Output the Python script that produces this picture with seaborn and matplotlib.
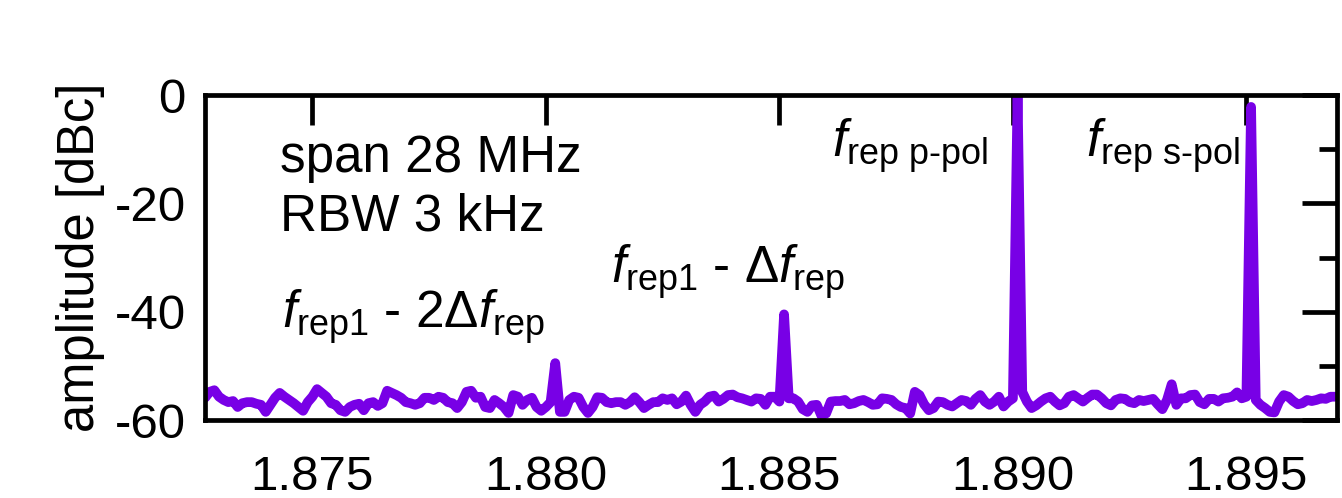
import numpy as np
import pandas as pd
import matplotlib
matplotlib.use("Agg")
import matplotlib.pyplot as plt
import seaborn as sns

# ---- data -------------------------------------------------------------
f_start = 1.8727          # GHz, first analyser bin
f_step = 0.0001           # GHz, bin spacing
amplitude_dbc = [
    -55.9, -54.8, -54.5, -55.7, -56.3, -56.7, -56.5, -57.6, -56.9, -56.7,
    -56.7, -57.0, -57.2, -58.5, -57.2, -55.9, -55.0, -55.7, -56.3, -56.9,
    -57.6, -58.3, -56.7, -55.7, -54.3, -55.0, -55.7, -56.9, -57.2, -58.2,
    -58.5, -57.6, -57.2, -57.0, -58.2, -56.9, -56.7, -57.4, -56.9, -54.6,
    -55.0, -55.4, -55.9, -56.7, -56.9, -57.2, -56.9, -55.9, -55.9, -56.3,
    -55.7, -55.9, -56.7, -56.9, -57.8, -56.7, -54.8, -54.6, -55.9, -55.7,
    -57.6, -57.8, -56.3, -56.9, -57.6, -58.7, -55.4, -55.7, -57.2, -56.3,
    -55.9, -57.6, -58.3, -57.6, -56.7, -49.5, -58.5, -58.5, -56.3, -55.7,
    -55.9, -57.6, -58.7, -57.6, -55.8, -55.9, -56.7, -56.9, -56.7, -56.7,
    -57.2, -56.7, -55.8, -56.7, -57.8, -57.2, -56.7, -56.7, -56.0, -56.3,
    -56.0, -57.1, -56.6, -55.5, -57.2, -58.5, -57.2, -56.6, -55.7, -55.5,
    -56.6, -56.1, -55.4, -55.3, -55.8, -56.0, -56.3, -56.6, -56.0, -56.1,
    -57.2, -55.7, -55.7, -56.6, -40.5, -56.0, -56.0, -56.6, -58.0, -58.5,
    -57.3, -57.2, -59.2, -58.8, -56.6, -56.5, -56.5, -56.3, -57.1, -56.9,
    -56.5, -56.3, -56.7, -57.2, -57.1, -56.0, -56.1, -56.3, -57.1, -57.6,
    -57.8, -58.8, -54.8, -55.4, -57.1, -58.2, -57.8, -56.6, -56.7, -57.2,
    -57.5, -56.9, -56.3, -56.5, -57.2, -56.1, -55.4, -56.6, -57.2, -56.6,
    -55.7, -57.5, -56.6, -56.0, 0.0, -54.8, -56.6, -57.8, -57.3, -56.6,
    -56.0, -55.7, -56.6, -57.3, -56.9, -55.7, -55.4, -56.0, -56.6, -55.9,
    -55.3, -55.3, -56.0, -56.9, -57.3, -56.3, -56.0, -56.1, -56.7, -56.9,
    -56.3, -56.5, -56.3, -56.1, -57.1, -58.0, -56.3, -53.4, -57.2, -56.0,
    -56.0, -55.4, -55.3, -56.7, -57.1, -56.1, -56.1, -56.6, -56.0, -55.9,
    -55.7, -54.9, -56.0, -55.7, -2.2, -56.3, -57.2, -57.8, -58.5, -58.6,
    -56.6, -55.4, -55.7, -56.5, -57.1, -56.9, -56.3, -56.5, -56.3, -56.0,
    -56.1, -55.7, -55.7,
]
frequency_ghz = np.round(f_start + f_step * np.arange(len(amplitude_dbc)), 4)

x_ticks = [1.875, 1.880, 1.885, 1.890, 1.895]
x_tick_labels = ["1.875", "1.880", "1.885", "1.890", "1.895"]
y_ticks = [-60, -40, -20, 0]
y_tick_labels = ["-60", "-40", "-20", "0"]
y_minor_ticks = [-50, -30, -10]
x_limits = (1.87270, 1.89694)
y_limits = (-60, 0)

y_label = "amplitude [dBc]"
info_lines = ["span 28 MHz", "RBW 3 kHz"]
peak_labels = [
    r"$f_{\mathrm{rep1}}$ - 2Δ$f_{\mathrm{rep}}$",
    r"$f_{\mathrm{rep1}}$ - Δ$f_{\mathrm{rep}}$",
    r"$f_{\text{rep p-pol}}$",
    r"$f_{\text{rep s-pol}}$",
]

df = pd.DataFrame({"frequency": frequency_ghz, "amplitude": amplitude_dbc})

# ---- style ------------------------------------------------------------
sns.set_theme(style="white")
plt.rcParams["font.family"] = ["Liberation Sans", "DejaVu Sans"]
plt.rcParams["mathtext.fontset"] = "custom"
plt.rcParams["mathtext.rm"] = "Liberation Sans"
plt.rcParams["mathtext.it"] = "Liberation Sans:italic"
plt.rcParams["mathtext.bf"] = "Liberation Sans:bold"
plt.rcParams["axes.unicode_minus"] = False

W, H = 1342, 498
fig = plt.figure(figsize=(W / 100, H / 100), dpi=100)
ax_l, ax_r, ax_t, ax_b = 205, 1337, 95, 420
ax = fig.add_axes([ax_l / W, 1 - ax_b / H, (ax_r - ax_l) / W, (ax_b - ax_t) / H])

purple = "#7800e6"
sns.lineplot(data=df, x="frequency", y="amplitude", ax=ax, color=purple,
             linewidth=7.0, estimator=None, sort=False)

ax.set_xlim(*x_limits)
ax.set_ylim(*y_limits)
ax.set_xticks(x_ticks)
ax.set_xticklabels(x_tick_labels)
ax.set_yticks(y_ticks)
ax.set_yticklabels(y_tick_labels)
ax.set_yticks(y_minor_ticks, minor=True)
ax.set_xlabel("")
ax.set_ylabel(y_label, fontsize=36.5, color="black")
ax.yaxis.set_label_coords(-0.1104, 0.5)
ax.yaxis.label.set_va("center")

for s in ax.spines.values():
    s.set_visible(True)
    s.set_linewidth(3.4)
    s.set_color("black")

ax.tick_params(which="both", direction="in", width=3.4, color="black",
               top=True, right=True, labelsize=35.5, labelcolor="black")
ax.tick_params(axis="x", which="major", length=27, pad=25)
ax.tick_params(axis="y", which="major", length=27, pad=14)
ax.tick_params(axis="y", which="minor", length=16)

def px2ax(x, y):
    return (x - ax_l) / (ax_r - ax_l), (ax_b - y) / (ax_b - ax_t)

# info text
for txt, (px, py) in zip(info_lines, [(280, 172), (280, 230)]):
    ax.text(*px2ax(px, py), txt, transform=ax.transAxes, fontsize=36.8,
            ha="left", va="baseline", color="black")

peak_pos = [(282, 328), (611, 283), (832, 157), (1086, 157)]
for txt, (px, py) in zip(peak_labels, peak_pos):
    ax.text(*px2ax(px, py), txt, transform=ax.transAxes, fontsize=37,
            ha="left", va="baseline", color="black")

# different tick lengths on the opposite sides (top / right)
for t in ax.xaxis.get_major_ticks():
    t.tick2line.set_markersize(21.6)
for t in ax.yaxis.get_major_ticks():
    t.tick2line.set_markersize(25)
for t in ax.yaxis.get_minor_ticks():
    t.tick2line.set_markersize(13)

fig.savefig("out.png", dpi=100)
